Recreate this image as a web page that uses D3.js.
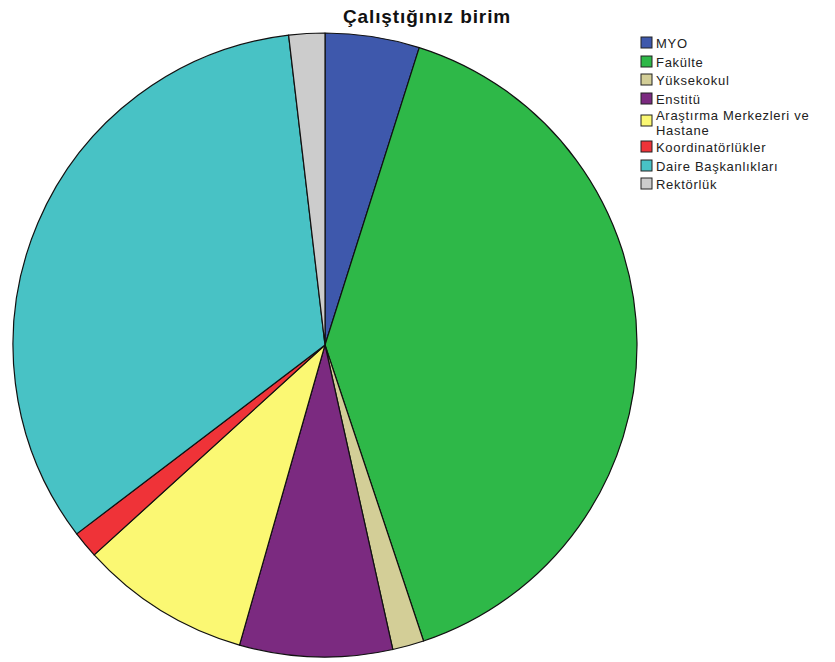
<!DOCTYPE html>
<html>
<head>
<meta charset="utf-8">
<script src="https://cdn.jsdelivr.net/npm/d3@7"></script>
<style>
  body { margin: 0; background: #fff; }
  text { font-family: Arial, "Liberation Sans", sans-serif; }
</style>
</head>
<body>
<div id="chart"></div>
<script>
var categories = ["MYO", "Fakülte", "Yüksekokul", "Enstitü", "Araştırma Merkezleri ve Hastane", "Koordinatörlükler", "Daire Başkanlıkları", "Rektörlük"];
var counts = [21, 172, 7, 34, 38, 6, 144, 8];
var colours = ["#3e58ac", "#2eb848", "#d3ce97", "#7b2a80", "#fbf873", "#ef3338", "#48c2c5", "#cccccc"];
var legendLines = [["MYO"], ["Fakülte"], ["Yüksekokul"], ["Enstitü"], ["Araştırma Merkezleri ve", "Hastane"], ["Koordinatörlükler"], ["Daire Başkanlıkları"], ["Rektörlük"]];

var width = 835, height = 662;
var cx = 325, cy = 345, radius = 312;

var svg = d3.select("#chart").append("svg")
    .attr("width", width)
    .attr("height", height);

svg.append("text")
    .attr("x", 427)
    .attr("y", 23)
    .attr("text-anchor", "middle")
    .attr("font-size", "19px")
    .attr("font-weight", "bold")
    .attr("letter-spacing", "0.9px")
    .attr("fill", "#111")
    .text("Çalıştığınız birim");

var data = categories.map(function(c, i) { return {name: c, value: counts[i]}; });

var pie = d3.pie().sort(null).value(function(d) { return d.value; });
var arc = d3.arc().innerRadius(0).outerRadius(radius);
var colour = d3.scaleOrdinal().domain(categories).range(colours);

var g = svg.append("g")
    .attr("transform", "translate(" + cx + "," + cy + ")");

g.selectAll("path")
    .data(pie(data))
  .enter().append("path")
    .attr("d", arc)
    .attr("fill", function(d) { return colour(d.data.name); })
    .attr("stroke", "#111")
    .attr("stroke-width", 1.2)
    .attr("stroke-linejoin", "round");

// legend
var rowY = [43, 62, 80, 99, 121, 147, 166, 184];
var legend = svg.append("g").attr("transform", "translate(641,0)");

var item = legend.selectAll("g")
    .data(categories)
  .enter().append("g")
    .attr("transform", function(d, i) { return "translate(0," + rowY[i] + ")"; });

item.append("rect")
    .attr("x", 0)
    .attr("y", -6)
    .attr("width", 11)
    .attr("height", 11)
    .attr("fill", function(d) { return colour(d); })
    .attr("stroke", "#222")
    .attr("stroke-width", 1);

item.append("text")
    .attr("x", 15)
    .attr("font-size", "13px")
    .attr("letter-spacing", "0.7px")
    .attr("fill", "#222")
    .each(function(d, i) {
      var lines = legendLines[i];
      var t = d3.select(this);
      lines.forEach(function(l, j) {
        t.append("tspan")
          .attr("x", 15)
          .attr("y", lines.length > 1 ? j * 14.5 - 1 : 4.5)
          .text(l);
      });
    });
</script>
</body>
</html>
